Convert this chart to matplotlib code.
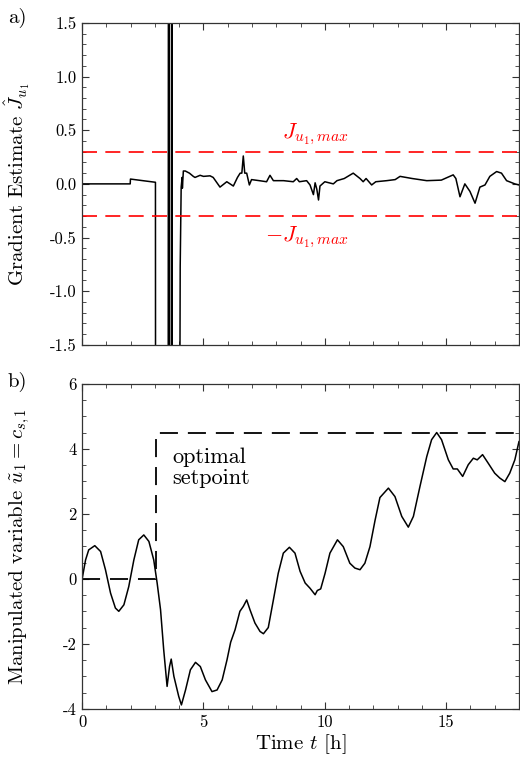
import numpy as np
import matplotlib
matplotlib.use("Agg")
import matplotlib.pyplot as plt
from matplotlib.ticker import MultipleLocator, FormatStrFormatter

plt.rcParams["font.family"] = "serif"
plt.rcParams["font.serif"] = ["cmr10"]
plt.rcParams["mathtext.fontset"] = "cm"
plt.rcParams["axes.unicode_minus"] = False

# =============================
# a) gradient estimate
# =============================
t_grad = [0, 1.98, 1.99, 2.5, 3.02, 3.03, 3.54, 3.56, 3.59, 3.61, 3.685, 3.695,
          3.70, 3.71, 3.99, 4.04, 4.08, 4.12, 4.13, 4.17, 4.25, 4.42, 4.58,
          4.65, 4.86, 5.0, 5.27, 5.4, 5.68, 5.96, 6.23, 6.4, 6.51, 6.58, 6.64,
          6.7, 6.78, 6.89, 6.98, 7.3, 7.6, 7.74, 7.88, 8.3, 8.7, 8.84, 8.95,
          9.25, 9.39, 9.53, 9.6, 9.67, 9.74, 9.8, 10.0, 10.35, 10.5, 10.8,
          11.17, 11.45, 11.58, 11.7, 11.93, 12.1, 12.55, 12.9, 13.1, 13.6,
          14.2, 14.8, 15.29, 15.4, 15.57, 15.77, 15.98, 16.19, 16.39, 16.6,
          16.8, 17.08, 17.28, 17.49, 17.83, 18.0]
j_grad = [0, 0, 0.045, 0.03, 0.015, -5, -5, 5, 5, -5, -5, 5,
          5, -5, -5, -0.77, -0.03, 0.06, -0.04, 0.12, 0.12, 0.1, 0.07,
          0.06, 0.08, 0.07, 0.075, 0.06, -0.03, 0.02, -0.02, 0.06, 0.1, 0.1, 0.26,
          0.1, 0.1, -0.01, 0.04, 0.03, 0.02, 0.08, 0.03, 0.03, 0.02, 0.05, 0.02,
          0.03, -0.01, -0.1, 0.01, -0.05, -0.15, -0.02, 0.02, 0.0, 0.03, 0.05,
          0.1, 0.05, 0.02, 0.05, -0.01, 0.02, 0.03, 0.04, 0.07, 0.05,
          0.03, 0.035, 0.084, 0.05, -0.12, 0.0, -0.07, -0.18, -0.03, -0.01,
          0.07, 0.115, 0.1, 0.03, 0.0, -0.01]
j_max = 0.3

# =============================
# b) manipulated variable
# =============================
t_u = [0, 0.14, 0.27, 0.52, 0.76, 0.96, 1.17, 1.37, 1.51, 1.72, 1.92, 2.13,
       2.33, 2.54, 2.75, 2.95, 3.09, 3.23, 3.36, 3.5, 3.6, 3.67, 3.78, 3.98,
       4.09, 4.26, 4.46, 4.67, 4.87, 5.08, 5.35, 5.56, 5.77, 5.97, 6.12,
       6.3, 6.5, 6.64, 6.78, 6.92, 7.12, 7.33, 7.47, 7.67, 7.88, 8.08, 8.29,
       8.54, 8.77, 8.98, 9.19, 9.39, 9.6, 9.69, 9.83, 10.01, 10.21, 10.52,
       10.76, 11.03, 11.24, 11.45, 11.65, 11.86, 12.07, 12.27, 12.62, 12.89,
       13.17, 13.44, 13.65, 13.92, 14.2, 14.4, 14.61, 14.81, 15.09, 15.29,
       15.46, 15.68, 15.91, 16.12, 16.28, 16.5, 16.73, 17.0, 17.21, 17.42,
       17.62, 17.83, 18.0]
u_val = [0, 0.58, 0.89, 1.02, 0.84, 0.28, -0.44, -0.9, -1.0, -0.8, -0.24, 0.58,
         1.2, 1.35, 1.15, 0.58, -0.13, -0.95, -2.18, -3.31, -2.7, -2.47, -3.0, -3.62,
         -3.88, -3.42, -2.8, -2.57, -2.7, -3.11, -3.47, -3.42, -3.11, -2.49, -1.95,
         -1.57, -1.0, -0.85, -0.65, -0.96, -1.36, -1.62, -1.69, -1.5, -0.65, 0.17, 0.79,
         0.97, 0.79, 0.23, -0.13, -0.29, -0.49, -0.36, -0.31, 0.17, 0.79, 1.2,
         0.99, 0.48, 0.33, 0.28, 0.48, 0.99, 1.8, 2.5, 2.79, 2.53,
         1.92, 1.59, 1.92, 2.84, 3.76, 4.28, 4.5, 4.28, 3.66, 3.38,
         3.38, 3.15, 3.51, 3.71, 3.66, 3.82, 3.56, 3.25, 3.1, 2.99,
         3.25, 3.66, 4.22]

t_sp = [0, 3.05, 3.05, 18]
sp_val = [0, 0, 4.5, 4.5]

# =============================
# Figure
# =============================
fig = plt.figure(figsize=(5.2, 7.63), dpi=100)
ax1 = fig.add_axes([0.158, 0.548, 0.840, 0.422])
ax2 = fig.add_axes([0.158, 0.071, 0.840, 0.426])

ax1.plot(t_grad, j_grad, color="black", lw=1.1)
ax1.axhline(j_max, color="red", lw=1.2, dashes=(9, 5))
ax1.axhline(-j_max, color="red", lw=1.2, dashes=(9, 5))
ax1.text(9.6, 0.46, r"$J_{u_1,max}$", color="red", fontsize=16,
         ha="center", va="center")
ax1.text(9.25, -0.5, r"$-J_{u_1,max}$", color="red", fontsize=16,
         ha="center", va="center")
ax1.set_xlim(0, 18)
ax1.set_ylim(-1.5, 1.5)
ax1.set_yticks(np.arange(-1.5, 1.51, 0.5))
ax1.yaxis.set_major_formatter(FormatStrFormatter("%.1f"))
ax1.yaxis.set_minor_locator(MultipleLocator(0.1))
ax1.set_ylabel(r"Gradient Estimate $\hat{J}_{u_1}$", fontsize=15)
ax1.tick_params(labelbottom=False)

ax2.plot(t_sp, sp_val, color="black", lw=1.3, dashes=(10, 5.5))
ax2.plot(t_u, u_val, color="black", lw=1.1)
ax2.text(3.7, 4.05, "optimal\nsetpoint", fontsize=16, ha="left", va="top",
         linespacing=1.1)
ax2.set_xlim(0, 18)
ax2.set_ylim(-4, 6)
ax2.set_yticks(np.arange(-4, 6.1, 2))
ax2.yaxis.set_minor_locator(MultipleLocator(0.5))
ax2.set_ylabel(r"Manipulated variable $\tilde{u}_1 = c_{s,1}$", fontsize=15)
ax2.set_xlabel(r"Time $t$ [h]", fontsize=15, labelpad=2)

for ax in (ax1, ax2):
    ax.xaxis.set_major_locator(MultipleLocator(5))
    ax.xaxis.set_minor_locator(MultipleLocator(1))
    ax.tick_params(which="both", direction="in", top=True, right=True,
                   labelsize=12, color="#333333", pad=4)
    ax.tick_params(which="major", length=5, width=0.8)
    ax.tick_params(which="minor", length=3, width=0.6)
    for s in ax.spines.values():
        s.set_linewidth(0.9)
        s.set_color("#333333")
    ax.yaxis.set_label_coords(-0.115, 0.5)

fig.text(0.015, 0.99, "a)", fontsize=15, ha="left", va="top")
fig.text(0.015, 0.513, "b)", fontsize=15, ha="left", va="top")

plt.savefig("out.png", dpi=100)
